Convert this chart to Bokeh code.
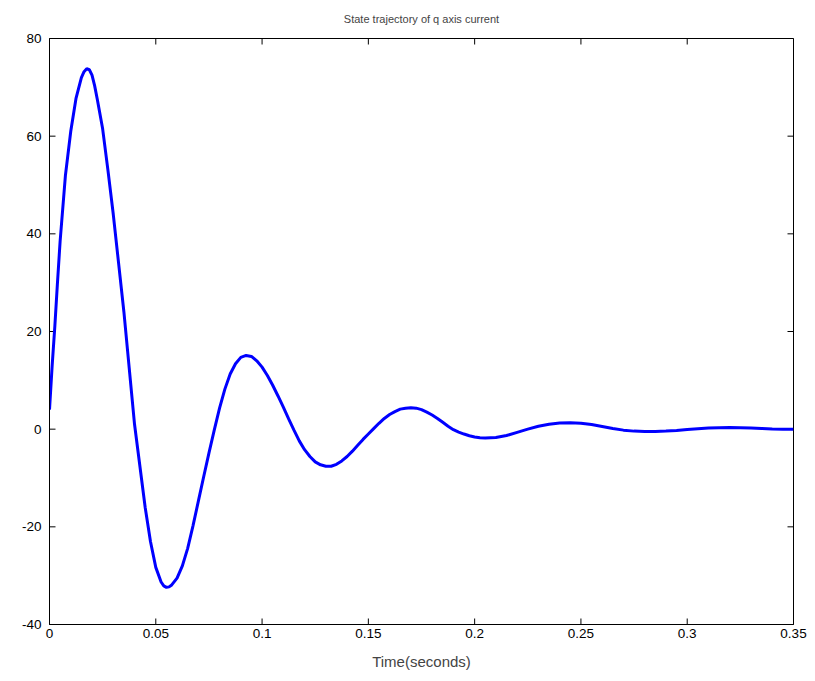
import math
from bokeh.plotting import figure
from bokeh.models import Range1d, LinearAxis, FixedTicker
from bokeh.embed import file_html
from bokeh.resources import INLINE

# ---- data ----
t = [0.0, 0.00125, 0.0025, 0.00375, 0.005, 0.0075, 0.01, 0.0125, 0.015, 0.01625,
     0.0175, 0.01875, 0.02, 0.02125, 0.0225,
     0.025, 0.0275, 0.03, 0.0325, 0.035, 0.0375, 0.04, 0.0425, 0.045, 0.0475,
     0.05, 0.0525, 0.05375, 0.055, 0.05625, 0.0575, 0.06, 0.0625, 0.065, 0.0675, 0.07, 0.0725,
     0.075, 0.0775, 0.08, 0.0825, 0.085, 0.0875, 0.09, 0.0925, 0.095, 0.0975,
     0.1, 0.1025, 0.105, 0.1075, 0.11, 0.1125, 0.115, 0.1175, 0.12, 0.1225,
     0.125, 0.1275, 0.13, 0.1325, 0.135, 0.1375, 0.14, 0.1425, 0.145, 0.1475,
     0.15, 0.1525, 0.155, 0.1575, 0.16, 0.1625, 0.165, 0.1675, 0.17, 0.1725,
     0.175, 0.1775, 0.18, 0.1825, 0.185, 0.1875, 0.19, 0.1925, 0.195, 0.1975,
     0.2, 0.2025, 0.205, 0.21, 0.215, 0.22, 0.225, 0.23, 0.235, 0.24,
     0.245, 0.25, 0.255, 0.26, 0.265, 0.27, 0.275, 0.28, 0.285, 0.29,
     0.295, 0.3, 0.305, 0.31, 0.315, 0.32, 0.325, 0.33, 0.335, 0.34,
     0.345, 0.35]
iq = [4.0, 13.0, 21.0, 30.0, 38.5, 52.0, 61.0, 67.8, 72.0, 73.2,
      73.8, 73.6, 72.5, 70.3, 67.5,
      61.5, 53.0, 44.0, 34.0, 24.0, 12.5, 1.0, -7.5, -16.0, -23.0,
      -28.3, -31.3, -32.1, -32.4, -32.3, -31.9, -30.5, -28.0, -24.4, -19.8, -14.8, -9.8,
      -4.9, -0.2, 4.3, 8.2, 11.3, 13.4, 14.7, 15.1, 14.9, 14.0,
      12.7, 11.0, 9.0, 6.8, 4.5, 2.1, -0.2, -2.4, -4.2, -5.6,
      -6.7, -7.3, -7.6, -7.6, -7.2, -6.5, -5.6, -4.5, -3.3, -2.1,
      -1.0, 0.1, 1.2, 2.2, 3.0, 3.6, 4.1, 4.3, 4.4, 4.3,
      4.0, 3.5, 2.9, 2.2, 1.4, 0.6, -0.1, -0.6, -1.0, -1.35,
      -1.6, -1.75, -1.8, -1.7, -1.3, -0.65, 0.0, 0.6, 1.0, 1.25,
      1.3, 1.2, 0.95, 0.55, 0.15, -0.2, -0.4, -0.5, -0.5, -0.4,
      -0.25, -0.05, 0.1, 0.22, 0.3, 0.33, 0.3, 0.23, 0.14, 0.05,
      0.0, 0.0]

x_ticks = [0, 0.05, 0.1, 0.15, 0.2, 0.25, 0.3, 0.35]
x_tick_labels = ["0", "0.05", "0.1", "0.15", "0.2", "0.25", "0.3", "0.35"]
y_ticks = [-40, -20, 0, 20, 40, 60, 80]
y_tick_labels = ["-40", "-20", "0", "20", "40", "60", "80"]

title_text = "State trajectory of q axis current"
x_label = "Time(seconds)"

X_MIN, X_MAX = 0, 0.35
Y_MIN, Y_MAX = -40, 80

FONT = "Liberation Sans"

p = figure(width=815, height=681, output_backend="svg", toolbar_location=None,
           x_range=Range1d(X_MIN, X_MAX), y_range=Range1d(Y_MIN, Y_MAX),
           x_axis_location=None, y_axis_location=None,
           min_border_left=49, min_border_right=22,
           min_border_top=38, min_border_bottom=57)

p.title.text = title_text
p.title.align = "center"
p.title.vertical_align = "top"
p.title.text_font = FONT
p.title.text_font_size = "11px"
p.title.text_font_style = "normal"
p.title.standoff = 24

p.xgrid.visible = False
p.ygrid.visible = False
p.outline_line_color = "black"
p.outline_line_width = 1
p.background_fill_color = "white"
p.border_fill_color = "white"


def style_axis(ax):
    ax.major_tick_in = 0
    ax.major_tick_out = 0
    ax.minor_tick_line_color = None
    ax.axis_line_color = "black"
    ax.major_tick_line_color = "black"
    ax.major_label_text_font = FONT
    ax.major_label_text_font_size = "13.5px"
    ax.major_label_text_color = "black"


xb = LinearAxis(ticker=FixedTicker(ticks=x_ticks),
                major_label_overrides={v: s for v, s in zip(x_ticks, x_tick_labels)})
style_axis(xb)
xb.major_label_standoff = 4
xb.axis_label = x_label
xb.axis_label_text_font = FONT
xb.axis_label_text_font_size = "15px"
xb.axis_label_text_font_style = "normal"
xb.axis_label_standoff = 12
p.add_layout(xb, "below")

yl = LinearAxis(ticker=FixedTicker(ticks=y_ticks),
                major_label_overrides={v: s for v, s in zip(y_ticks, y_tick_labels)})
style_axis(yl)
yl.major_label_standoff = 8
p.add_layout(yl, "left")

# inward tick marks on all four sides (outer half clipped by the frame)
p.scatter(x_ticks, [Y_MIN] * len(x_ticks), marker="dash", size=12, angle=math.pi / 2,
          line_color="black", line_width=1)
p.scatter(x_ticks, [Y_MAX] * len(x_ticks), marker="dash", size=12, angle=math.pi / 2,
          line_color="black", line_width=1)
p.scatter([X_MIN] * len(y_ticks), y_ticks, marker="dash", size=12,
          line_color="black", line_width=1)
p.scatter([X_MAX] * len(y_ticks), y_ticks, marker="dash", size=12,
          line_color="black", line_width=1)

p.line(t, iq, line_color="#0000ff", line_width=3)

open("out.html", "w").write(file_html(p, INLINE))
